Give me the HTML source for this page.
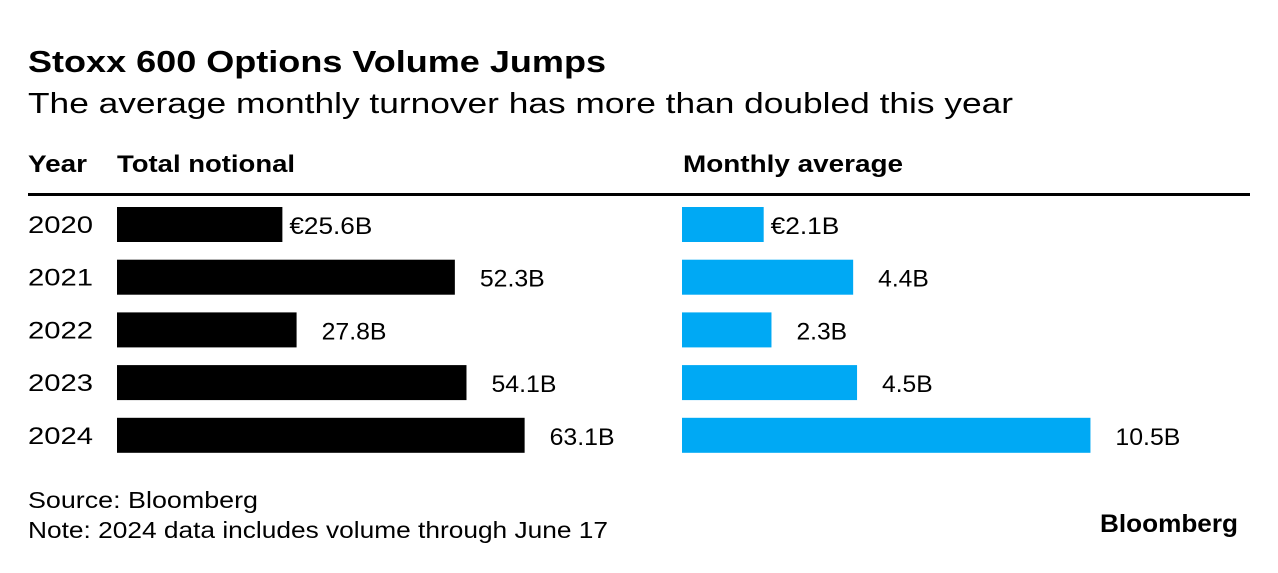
<!DOCTYPE html>
<html><head><meta charset="utf-8"><style>
body{margin:0;width:1278px;height:568px;background:#fff;font-family:"Liberation Sans",sans-serif;color:#000;overflow:hidden}
svg text{font-family:"Liberation Sans",sans-serif}
</style></head><body>
<svg id="chart" width="1278" height="568">
<text x="28" y="72" font-size="31" font-weight="bold" textLength="578" lengthAdjust="spacingAndGlyphs">Stoxx 600 Options Volume Jumps</text>
<text x="28" y="113" font-size="29" textLength="985" lengthAdjust="spacingAndGlyphs">The average monthly turnover has more than doubled this year</text>
<text x="28" y="172" font-size="24" font-weight="bold" textLength="59" lengthAdjust="spacingAndGlyphs">Year</text>
<text x="117" y="172" font-size="24" font-weight="bold" textLength="178" lengthAdjust="spacingAndGlyphs">Total notional</text>
<text x="683" y="172" font-size="24" font-weight="bold" textLength="220" lengthAdjust="spacingAndGlyphs">Monthly average</text>
<rect x="28" y="193" width="1222" height="3" fill="#000"/>
<g id="rows"></g>
<text x="28" y="508" font-size="23" textLength="230" lengthAdjust="spacingAndGlyphs">Source: Bloomberg</text>
<text x="28" y="538" font-size="23" textLength="580" lengthAdjust="spacingAndGlyphs">Note: 2024 data includes volume through June 17</text>
<text x="1100" y="532" font-size="25" font-weight="bold" textLength="138" lengthAdjust="spacingAndGlyphs">Bloomberg</text>
</svg>
<script>
const years=["2020","2021","2022","2023","2024"];
const totals=[25.6,52.3,27.8,54.1,63.1];
const monthly=[2.1,4.4,2.3,4.5,10.5];
const totalLabels=["€25.6B","52.3B","27.8B","54.1B","63.1B"];
const monthlyLabels=["€2.1B","4.4B","2.3B","4.5B","10.5B"];
const xT=v=>117+v*6.46;
const xM=v=>682+v*38.9;
const yRow=i=>207+i*52.7;
const g=document.getElementById('rows');
const NS="http://www.w3.org/2000/svg";
const charW=14.5;
function mk(tag,attrs,txt){const e=document.createElementNS(NS,tag);for(const k in attrs)e.setAttribute(k,attrs[k]);if(txt!==undefined)e.textContent=txt;g.appendChild(e);return e;}
function w(s){let n=0;for(const c of s){n+= c=='.'?6:(c=='€'?18:(c=='B'?16:14.3));}return n;}
years.forEach((y,i)=>{
 const top=yRow(i);
 let t=mk('text',{x:28,y:top+26,'font-size':24,textLength:65,lengthAdjust:'spacingAndGlyphs'},y);
 
 
 let b=mk('rect',{x:xT(0),y:top,width:xT(totals[i])-xT(0),height:35,fill:'#000'});
 
 
 let l=mk('text',{x:xT(totals[i])+(i==0?7:25),y:top+27,'font-size':24,textLength:w(totalLabels[i]),lengthAdjust:'spacingAndGlyphs'},totalLabels[i]);
 
 
 let m=mk('rect',{x:xM(0),y:top,width:xM(monthly[i])-xM(0),height:35,fill:'#00a9f4'});
 
 
 let ml=mk('text',{x:xM(monthly[i])+(i==0?7:25),y:top+27,'font-size':24,textLength:w(monthlyLabels[i]),lengthAdjust:'spacingAndGlyphs'},monthlyLabels[i]);
 
 
});
</script>
</body></html>
